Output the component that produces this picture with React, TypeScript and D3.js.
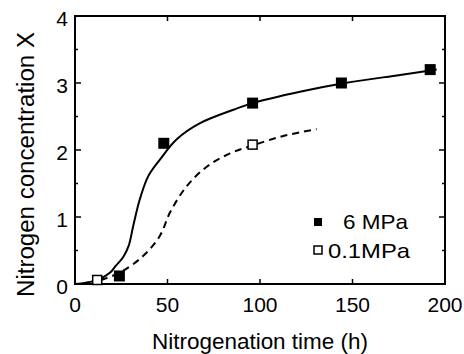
import React from 'react'
import * as d3 from 'd3'

// measured points
const highTime = [24, 48, 96, 144, 192]
const highConc = [0.12, 2.1, 2.7, 3.0, 3.2]
const lowTime = [12, 96]
const lowConc = [0.06, 2.08]

// hand-drawn fit curves
const highFitTime = [0, 6, 13, 19, 22, 26, 29, 31.5, 35, 39.6, 46, 55, 67.6, 85.6, 96, 121.6, 146, 175.7, 195.5]
const highFitConc = [0, 0.02, 0.07, 0.17, 0.27, 0.4, 0.57, 0.87, 1.26, 1.61, 1.86, 2.16, 2.4, 2.6, 2.7, 2.87, 3.0, 3.12, 3.2]
const lowFitTime = [14, 24.3, 36.9, 45.9, 51.4, 60.4, 71.2, 83.8, 96.3, 112.6, 130.6]
const lowFitConc = [0.06, 0.17, 0.42, 0.72, 1.07, 1.46, 1.75, 1.95, 2.07, 2.21, 2.31]

const xTicks = [0, 50, 100, 150, 200]
const yTicks = [0, 1, 2, 3, 4]
const yMinor = [0.5, 1.5, 2.5, 3.5]

const legendLabels = ['6 MPa', '0.1MPa']

const W = 464, H = 354
const plot = { left: 75, right: 445, top: 16, bottom: 284 }
const font = "'Liberation Sans', Arial, Helvetica, sans-serif"

export default function App() {
  const x = d3.scaleLinear().domain([0, 200]).range([plot.left, plot.right])
  const y = d3.scaleLinear().domain([0, 4]).range([plot.bottom, plot.top])

  const line = d3.line<[number, number]>()
    .x(d => x(d[0]))
    .y(d => y(d[1]))
    .curve(d3.curveCatmullRom.alpha(0.5))

  const highFit = highFitTime.map((t, i) => [t, highFitConc[i]] as [number, number])
  const lowFit = lowFitTime.map((t, i) => [t, lowFitConc[i]] as [number, number])

  const ms = 11
  const ls = 8

  return (
    <svg width={W} height={H} style={{ position: 'absolute', left: 0, top: 0, background: '#fff' }}
      fontFamily={font}>
      <rect x={plot.left} y={plot.top} width={plot.right - plot.left} height={plot.bottom - plot.top}
        fill="none" stroke="#000" strokeWidth={2} />

      {xTicks.slice(1, -1).map(t => (
        <g key={'xt' + t} stroke="#000" strokeWidth={1.5}>
          <line x1={x(t)} x2={x(t)} y1={plot.bottom} y2={plot.bottom - 5} />
          <line x1={x(t)} x2={x(t)} y1={plot.top} y2={plot.top + 5} />
        </g>
      ))}
      {yTicks.slice(1, -1).map(t => (
        <g key={'yt' + t} stroke="#000" strokeWidth={1.5}>
          <line x1={plot.left} x2={plot.left + 6} y1={y(t)} y2={y(t)} />
          <line x1={plot.right} x2={plot.right - 6} y1={y(t)} y2={y(t)} />
        </g>
      ))}
      {yMinor.map(t => (
        <g key={'ym' + t} stroke="#000" strokeWidth={1.5}>
          <line x1={plot.left} x2={plot.left + 3} y1={y(t)} y2={y(t)} />
          <line x1={plot.right} x2={plot.right - 3} y1={y(t)} y2={y(t)} />
        </g>
      ))}

      {xTicks.map(t => (
        <text key={'xl' + t} x={x(t)} y={312} textAnchor="middle" fontSize={21}>{t}</text>
      ))}
      {yTicks.map(t => (
        <text key={'yl' + t} x={68} y={y(t) + 10} textAnchor="end" fontSize={21}>{t}</text>
      ))}

      <text x={260} y={349} textAnchor="middle" fontSize={22} textLength={216}
        lengthAdjust="spacingAndGlyphs">Nitrogenation time (h)</text>
      <text transform={`translate(34,164.5) rotate(-90)`} textAnchor="middle" fontSize={23}
        textLength={265} lengthAdjust="spacingAndGlyphs">Nitrogen concentration X</text>

      <path d={line(highFit) ?? ''} fill="none" stroke="#000" strokeWidth={2} />
      <path d={line(lowFit) ?? ''} fill="none" stroke="#000" strokeWidth={2} strokeDasharray="7,5" />

      {highTime.map((t, i) => (
        <rect key={'hp' + i} x={x(t) - ms / 2} y={y(highConc[i]) - ms / 2} width={ms} height={ms} fill="#000" />
      ))}
      {lowTime.map((t, i) => (
        <rect key={'lp' + i} x={x(t) - (ms - 2) / 2} y={y(lowConc[i]) - (ms - 2) / 2} width={ms - 2} height={ms - 2}
          fill="#fff" stroke="#000" strokeWidth={1.5} />
      ))}

      <rect x={318 - ls / 2} y={222 - ls / 2} width={ls} height={ls} fill="#000" />
      <text x={343} y={229} fontSize={21} textLength={65} lengthAdjust="spacingAndGlyphs">{legendLabels[0]}</text>
      <rect x={318 - ls / 2} y={250 - ls / 2} width={ls} height={ls} fill="#fff" stroke="#000" strokeWidth={1.5} />
      <text x={328} y={258} fontSize={21} textLength={82} lengthAdjust="spacingAndGlyphs">{legendLabels[1]}</text>
    </svg>
  )
}
